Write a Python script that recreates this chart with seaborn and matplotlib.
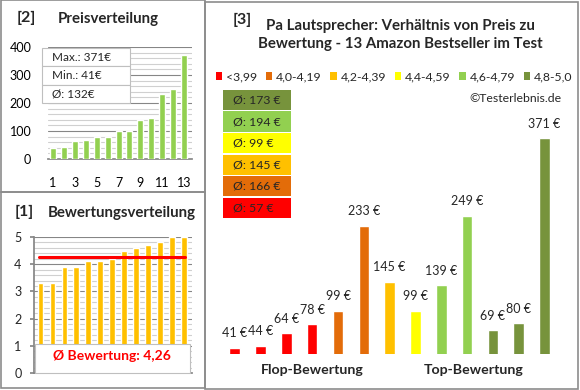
import numpy as np
import pandas as pd
import seaborn as sns
import matplotlib.pyplot as plt
from matplotlib.patches import Rectangle

# --- Data (products in the order of the right-hand chart) ---
prices = [41, 44, 64, 78, 99, 233, 145, 99, 139, 249, 69, 80, 371]
ratings = [3.3, 3.3, 3.9, 3.9, 4.1, 4.1, 4.2, 4.5, 4.6, 4.7, 4.8, 5.0, 5.0]
class_labels = ["<3,99", "4,0-4,19", "4,2-4,39", "4,4-4,59", "4,6-4,79", "4,8-5,0"]
class_bins = [0, 3.99, 4.19, 4.39, 4.59, 4.79, 5.0]
class_colors = ["#FF0000", "#E36C09", "#FFC000", "#FFFF00", "#92D050", "#77933C"]

title_right = "Pa Lautsprecher: Verhältnis von Preis zu\nBewertung - 13 Amazon Bestseller im Test"

sns.set_theme(style="white")
plt.rcParams["font.family"] = ["Lato", "DejaVu Sans"]

W, H = 580, 390
fig = plt.figure(figsize=(W / 100, H / 100), dpi=100)
fig.patch.set_facecolor("white")


def px_axes(x0, y0, x1, y1):
    """axes from pixel box (top-left origin)"""
    return fig.add_axes([x0 / W, 1 - y1 / H, (x1 - x0) / W, (y1 - y0) / H])


def fx(x):
    return x / W


def fy(y):
    return 1 - y / H


df = pd.DataFrame({"price": prices, "rating": ratings})
df["klasse"] = pd.cut(df["rating"], bins=class_bins, labels=class_labels)
df["pos"] = np.arange(len(df))

GRID_MAJ = "#868686"
GRID_MIN = "#d0d0d0"

# ==============================================================================
# [2] Preisverteilung
# ==============================================================================
ax1 = px_axes(48, 47, 192, 159)
price_sorted = sorted(prices)
sns.barplot(x=list(range(len(price_sorted))), y=price_sorted, color="#92D050",
            width=0.55, saturation=1, ax=ax1, zorder=3)
ax1.set_ylim(0, 400)
ax1.set_xlim(-0.46, 12.73)
for v in np.arange(20, 401, 20):
    ax1.axhline(v, color=GRID_MAJ if v % 100 == 0 else GRID_MIN, lw=0.8, zorder=1)
ax1.set_yticks([0, 100, 200, 300, 400])
ax1.set_xticks(range(0, 13, 2))
ax1.set_xticklabels([str(i + 1) for i in range(0, 13, 2)])
ax1.tick_params(axis="both", labelsize=9, length=0, colors="black")
ax1.tick_params(axis="x", pad=13)
ax1.tick_params(axis="y", pad=12)
for s in ["top", "right", "left"]:
    ax1.spines[s].set_visible(False)
ax1.spines["bottom"].set_color(GRID_MAJ)
ax1.set_xlabel("")
ax1.set_ylabel("")

# info box
info = [f"Max.: {max(prices)}€", f"Min.: {min(prices)}€", f"Ø: {round(np.mean(prices))}€"]
bx0, bx1, by0 = 42, 130, 48
row_h = 18.3
for i, t in enumerate(info):
    fig.add_artist(Rectangle((fx(bx0), fy(by0 + (i + 1) * row_h)), (bx1 - bx0) / W, row_h / H,
                             transform=fig.transFigure, facecolor="white",
                             edgecolor="#bfbfbf", lw=0.8, zorder=5))
    fig.text(fx(52), fy(by0 + (i + 0.5) * row_h), t, fontsize=8.5, va="center", zorder=6)

fig.text(fx(17), fy(18), "[2]", fontsize=11.5, fontweight="bold", va="center")
fig.text(fx(58), fy(19), "Preisverteilung", fontsize=10.8, fontweight="bold", va="center")

# ==============================================================================
# [1] Bewertungsverteilung
# ==============================================================================
ax2 = px_axes(34, 237, 192, 373)
rating_sorted = sorted(ratings)
sns.barplot(x=list(range(len(rating_sorted))), y=rating_sorted, color="#FFC000",
            width=0.48, saturation=1, ax=ax2, zorder=3)
ax2.set_ylim(0, 5)
ax2.set_xlim(-0.55, 12.7)
for v in np.arange(0.2, 5.01, 0.2):
    major = abs(v - round(v)) < 1e-6
    ax2.axhline(v, color=GRID_MAJ if major else GRID_MIN, lw=0.8, zorder=1)
avg_rating = np.mean(ratings)
ax2.plot([-0.1, 12.1], [avg_rating, avg_rating], color="#FF0000", lw=2.2, zorder=4)
ax2.set_yticks(range(0, 6))
ax2.set_xticks([])
ax2.tick_params(axis="y", labelsize=9, length=3, direction="out", color=GRID_MAJ, pad=6, left=True)
for s in ["top", "right"]:
    ax2.spines[s].set_visible(False)
ax2.spines["left"].set_color(GRID_MAJ)
ax2.spines["bottom"].set_color(GRID_MAJ)
ax2.spines["bottom"].set_zorder(7)
ax2.set_xlabel("")
ax2.set_ylabel("")

fig.add_artist(Rectangle((fx(34.5), fy(372.5)), (190 - 34.5) / W, (372.5 - 344) / H,
                         transform=fig.transFigure, facecolor="white",
                         edgecolor="#bfbfbf", lw=0.8, zorder=5))
fig.text(fx(112), fy(356), f"Ø Bewertung: {avg_rating:.2f}".replace(".", ","),
         color="#FF0000", fontsize=10, fontweight="bold", ha="center", va="center", zorder=6)

fig.text(fx(15), fy(212), "[1]", fontsize=11.5, fontweight="bold", va="center")
fig.text(fx(48), fy(213), "Bewertungsverteilung", fontsize=10.8, fontweight="bold", va="center")

# ==============================================================================
# [3] Preis vs. Bewertung
# ==============================================================================
ax3 = px_axes(215, 100, 565, 354)
pal = dict(zip(class_labels, class_colors))
sns.barplot(data=df, x="pos", y="price", hue="klasse", palette=pal, dodge=False,
            width=0.41, saturation=1, legend=False, ax=ax3)
ax3.set_ylim(31, 31 + 254 / 0.635)
ax3.set_xlim(-0.763, 12.79)
ax3.axis("off")
for p, v in zip(df["pos"], df["price"]):
    ax3.annotate(f"{v} €", (p, v), xytext=(0, 6), textcoords="offset points",
                 ha="center", va="bottom", fontsize=9)

fig.text(fx(233), fy(20), "[3]", fontsize=11.5, fontweight="bold", va="center")
fig.text(fx(400), fy(35), title_right, fontsize=10.8, fontweight="bold",
         ha="center", va="center", linespacing=1.3)

handles = [Rectangle((0, 0), 1, 1, facecolor=c, edgecolor="none") for c in class_colors]
fig.legend(handles, class_labels, loc="center", bbox_to_anchor=(fx(394), fy(77)), ncol=6,
           frameon=False, fontsize=8.8, handlelength=0.55, handleheight=0.55,
           handletextpad=0.3, columnspacing=0.7, borderpad=0)
fig.text(fx(562), fy(98), "©Testerlebnis.de", fontsize=8.8, ha="right", va="center")

# class averages, top = best class
avg_by_class = df.groupby("klasse", observed=False)["price"].mean()
box_top = 90
for i, lab in enumerate(class_labels[::-1]):
    y0 = box_top + i * 21.5
    fig.add_artist(Rectangle((fx(223), fy(y0 + 20)), (291 - 223) / W, 20 / H,
                             transform=fig.transFigure, facecolor=pal[lab], edgecolor="none"))
    fig.text(fx(233), fy(y0 + 10), f"Ø: {round(avg_by_class[lab])} €", fontsize=8.8, va="center")

fig.text(fx(312), fy(370), "Flop-Bewertung", fontsize=10.2, fontweight="bold", ha="center", va="center")
fig.text(fx(474), fy(370), "Top-Bewertung", fontsize=10.2, fontweight="bold", ha="center", va="center")

# --- panel frames ---
BORDER = "#8c8c8c"
for (x0, y0, x1, y1) in [(1, 0, 205, 192), (1, 192, 205, 388), (205, 2, 578, 389)]:
    fig.add_artist(Rectangle((fx(x0), fy(y1)), (x1 - x0) / W, (y1 - y0) / H,
                             transform=fig.transFigure, facecolor="none",
                             edgecolor=BORDER, lw=1.2, zorder=10))

fig.savefig("out.png", dpi=100)
